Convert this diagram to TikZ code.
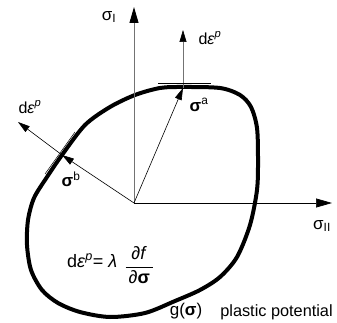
\documentclass[tikz,border=0pt]{standalone}
\usepackage{amsmath}
\usepackage{fontspec}
\setmainfont{Liberation Sans}
\usepackage{tikz}
\usetikzlibrary{arrows.meta,positioning}
\tikzset{
  ppaxis/.style={-{Triangle[length=16pt,width=9pt,color=black]}, draw=black!55, line width=0.9pt},
  pparrow/.style={-{Triangle[length=12pt,width=7pt,color=black]}, line width=0.6pt},
  ppcurve/.style={line width=4pt},
  pptan/.style={line width=0.5pt},
  pplabel/.style={font=\fontsize{17}{20}\selectfont, inner sep=1pt},
  ppsmall/.style={font=\fontsize{16}{19}\selectfont, inner sep=1pt},
}
\newcommand{\ppsig}{\textbf{σ}}
\newcommand{\ppdeps}{d\textit{ε}\textsuperscript{\textit{p}}}

\begin{document}
\begin{tikzpicture}[x=1pt, y=-1pt]
  \useasboundingbox (0,0) rectangle (337,323);
  \coordinate (O) at (134,203);
  \coordinate (a) at (183,88);
  \coordinate (b) at (62,155);

  % potential surface
  \draw[ppcurve] plot[smooth cycle, tension=0.5] coordinates {
    (183,87) (220,88) (240,95) (251,107) (257,128) (258,160) (257,190)
    (250,225) (237,257) (220,277) (200,290) (175,301) (145,313) (110,317)
    (80,312) (58,303) (42,290) (31,270) (27,245) (28,220) (34,198)
    (47,177) (62,155) (85,125) (110,107) (135,95) (160,88)};

  % axes
  \draw[ppaxis] (O) -- (134,7) coordinate (sI);
  \draw[ppaxis, draw=black, line width=0.7pt] (O) -- (332,203) coordinate (sII);
  \node[pplabel] (lI) at (109,17) {σ\textsubscript{I}};
  \node[pplabel] (lII) at (322,226) {σ\textsubscript{II}};

  % stress points and plastic strain increments
  \draw[pparrow] (O) -- (a);
  \draw[pparrow] (O) -- (b);
  \draw[pparrow, draw=black!55] (a) -- (183,30) coordinate (ea);
  \draw[pparrow] (b) -- (18,122) coordinate (eb);
  \draw[pptan] (158,83) coordinate (ta1) -- (211,83) coordinate (ta2);
  \draw[pptan] (45,174) coordinate (tb1) -- (75,132) coordinate (tb2);

  \node[pplabel] (la) at (199,105) {\ppsig\textsuperscript{a}};
  \node[pplabel] (lb) at (71,179) {\ppsig\textsuperscript{b}};
  \node[ppsmall] (lea) at (210,38) {\ppdeps};
  \node[ppsmall] (leb) at (30,107) {\ppdeps};

  \node[pplabel, font=\fontsize{18}{21}\selectfont, anchor=base west] (rule) at (66,267)
    {\ppdeps= \textit{λ}\hspace{0.4em}\raisebox{-0.25em}{$\genfrac{}{}{0.3pt}{0}{\text{∂\textit{f}}}{\text{\,∂\ppsig\,}}$}};
  \node[pplabel] (g) at (186,311) {g(\ppsig)};
  \node[pplabel, font=\fontsize{16.3}{19}\selectfont] (pp) at (276.5,312) {plastic potential};
\end{tikzpicture}
\end{document}
